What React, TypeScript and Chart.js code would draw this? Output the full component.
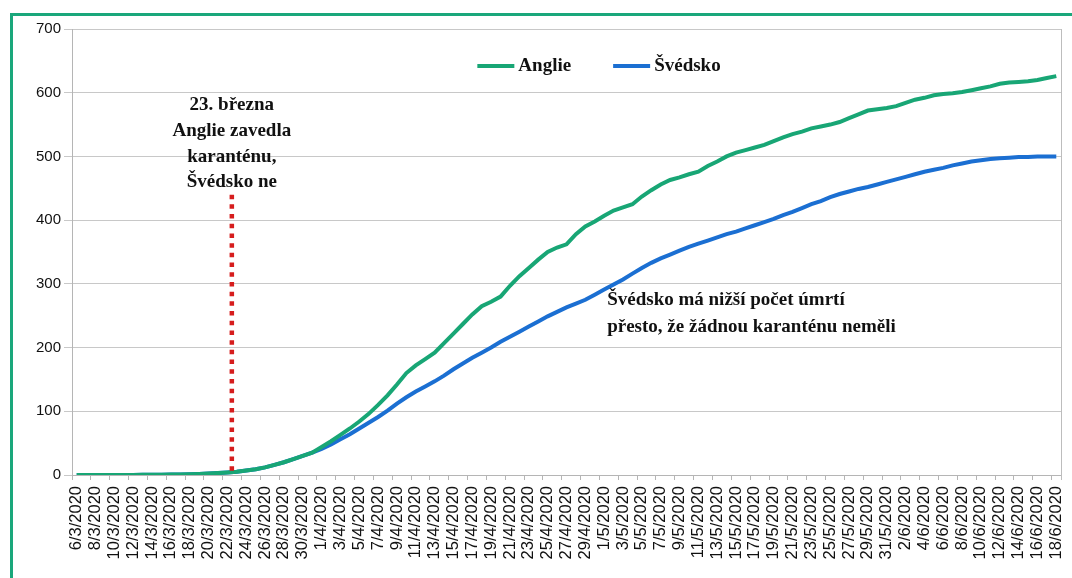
import React, { useEffect, useRef } from 'react';
import { Chart, registerables } from 'chart.js';

Chart.register(...registerables);

const dateLabels = [
  '6/3/2020','7/3/2020','8/3/2020','9/3/2020','10/3/2020','11/3/2020','12/3/2020','13/3/2020','14/3/2020','15/3/2020',
  '16/3/2020','17/3/2020','18/3/2020','19/3/2020','20/3/2020','21/3/2020','22/3/2020','23/3/2020','24/3/2020','25/3/2020',
  '26/3/2020','27/3/2020','28/3/2020','29/3/2020','30/3/2020','31/3/2020',
  '1/4/2020','2/4/2020','3/4/2020','4/4/2020','5/4/2020','6/4/2020','7/4/2020','8/4/2020','9/4/2020','10/4/2020',
  '11/4/2020','12/4/2020','13/4/2020','14/4/2020','15/4/2020','16/4/2020','17/4/2020','18/4/2020','19/4/2020','20/4/2020',
  '21/4/2020','22/4/2020','23/4/2020','24/4/2020','25/4/2020','26/4/2020','27/4/2020','28/4/2020','29/4/2020','30/4/2020',
  '1/5/2020','2/5/2020','3/5/2020','4/5/2020','5/5/2020','6/5/2020','7/5/2020','8/5/2020','9/5/2020','10/5/2020',
  '11/5/2020','12/5/2020','13/5/2020','14/5/2020','15/5/2020','16/5/2020','17/5/2020','18/5/2020','19/5/2020','20/5/2020',
  '21/5/2020','22/5/2020','23/5/2020','24/5/2020','25/5/2020','26/5/2020','27/5/2020','28/5/2020','29/5/2020','30/5/2020','31/5/2020',
  '1/6/2020','2/6/2020','3/6/2020','4/6/2020','5/6/2020','6/6/2020','7/6/2020','8/6/2020','9/6/2020','10/6/2020',
  '11/6/2020','12/6/2020','13/6/2020','14/6/2020','15/6/2020','16/6/2020','17/6/2020','18/6/2020'
];

const englandValues = [
  0, 0, 0, 0, 0, 0, 0.1, 0.2, 0.3, 0.4,
  0.6, 0.9, 1.2, 1.6, 2.2, 3, 4, 5, 7, 9,
  12, 16, 20, 25, 30, 35, 44, 53, 63, 73,
  84, 96, 110, 125, 142, 160, 172, 182, 192, 207,
  222, 237, 252, 265, 272, 280, 297, 312, 325, 338,
  350, 357, 362, 378, 390, 398, 407, 415, 420, 425,
  437, 447, 456, 463, 467, 472, 476, 485, 492, 500,
  506, 510, 514, 518, 524, 530, 535, 539, 544, 547,
  550, 554, 560, 566, 572, 574, 576, 579, 584, 589,
  592, 596, 598, 599, 601, 604, 607, 610, 614, 616,
  617, 618, 620, 623, 626
];

const swedenValues = [
  0, 0, 0, 0, 0, 0, 0.1, 0.2, 0.3, 0.4,
  0.6, 0.9, 1.2, 1.6, 2.2, 3, 4, 5, 7, 9,
  12, 16, 20, 25, 30, 35, 41, 48, 56, 64,
  73, 82, 91, 101, 112, 122, 131, 139, 147, 156,
  166, 175, 184, 192, 200, 209, 217, 225, 233, 241,
  249, 256, 263, 269, 275, 283, 291, 299, 307, 316,
  325, 333, 340, 346, 352, 358, 363, 368, 373, 378,
  382, 387, 392, 397, 402, 408, 413, 419, 425, 430,
  436, 441, 445, 449, 452, 456, 460, 464, 468, 472,
  476, 479, 482, 486, 489, 492, 494, 496, 497, 498,
  499, 499, 500, 500, 500
];

const seriesNames = ['Anglie', 'Švédsko'];
const seriesColors = ['#18a675', '#1b6fd2'];
const yMax = 700;
const yStep = 100;

const lockdownDate = '23/3/2020';
const lockdownTop = 440;
const lockdownNote = ['23. března', 'Anglie zavedla', 'karanténu,', 'Švédsko ne'];
const lockdownNoteValue = 580;
const swedenNoteDate = '1/5/2020';
const swedenNoteValue = 275;
const swedenNote = ['Švédsko má nižší počet úmrtí', 'přesto, že žádnou karanténu neměli'];

const NOTE_FONT = 'bold 19px "Liberation Serif", "Times New Roman", serif';

const overlayPlugin = {
  id: 'overlay',
  afterDraw(chart: any) {
    const { ctx, chartArea, scales } = chart;
    const xs = scales.x;
    const ys = scales.y;
    ctx.save();
    // right frame of plot
    ctx.strokeStyle = '#bdbdbd';
    ctx.lineWidth = 1;
    ctx.beginPath();
    ctx.moveTo(Math.round(chartArea.right) + 0.5, chartArea.top);
    ctx.lineTo(Math.round(chartArea.right) + 0.5, chartArea.bottom + 5);
    ctx.stroke();

    // lockdown dotted line
    const lx = xs.getPixelForValue(dateLabels.indexOf(lockdownDate)) - 5;
    ctx.strokeStyle = '#d61d1d';
    ctx.lineWidth = 4.5;
    ctx.setLineDash([4.5, 5.2]);
    ctx.beginPath();
    ctx.moveTo(lx, ys.getPixelForValue(lockdownTop));
    ctx.lineTo(lx, ys.getPixelForValue(0) - 3);
    ctx.stroke();
    ctx.setLineDash([]);

    // notes
    ctx.fillStyle = '#111';
    ctx.font = NOTE_FONT;
    ctx.textBaseline = 'middle';
    ctx.textAlign = 'center';
    const ly = ys.getPixelForValue(lockdownNoteValue);
    lockdownNote.forEach((t, i) => ctx.fillText(t, lx, ly + i * 25.7));

    ctx.textAlign = 'left';
    const sx = xs.getPixelForValue(dateLabels.indexOf(swedenNoteDate)) + 3;
    const sy = ys.getPixelForValue(swedenNoteValue);
    swedenNote.forEach((t, i) => ctx.fillText(t, sx, sy + i * 27));

    // legend
    const swatch = 37;
    const gap = 4;
    const itemGap = 42;
    const widths = chart.data.datasets.map((d: any) => swatch + gap + ctx.measureText(d.label).width);
    const total = widths.reduce((a: number, b: number) => a + b, 0) + itemGap * (widths.length - 1);
    let x = 599 - total / 2;
    const legY = chartArea.top + 37;
    chart.data.datasets.forEach((d: any, i: number) => {
      ctx.strokeStyle = d.borderColor;
      ctx.lineWidth = 4;
      ctx.beginPath();
      ctx.moveTo(x, legY);
      ctx.lineTo(x + swatch, legY);
      ctx.stroke();
      ctx.fillStyle = '#111';
      ctx.fillText(d.label, x + swatch + gap, legY);
      x += widths[i] + itemGap;
    });
    ctx.restore();
  },
};

export default function App() {
  const canvasRef = useRef<HTMLCanvasElement>(null);

  useEffect(() => {
    if (!canvasRef.current) return;
    const chart = new Chart(canvasRef.current, {
      type: 'line',
      data: {
        labels: dateLabels,
        datasets: [
          {
            label: seriesNames[0],
            data: englandValues,
            borderColor: seriesColors[0],
            backgroundColor: seriesColors[0],
            borderWidth: 4,
            pointRadius: 0,
            tension: 0,
          },
          {
            label: seriesNames[1],
            data: swedenValues,
            borderColor: seriesColors[1],
            backgroundColor: seriesColors[1],
            borderWidth: 4,
            pointRadius: 0,
            tension: 0,
          },
        ],
      },
      options: {
        animation: false,
        responsive: false,
        maintainAspectRatio: false,
        layout: { padding: { top: 29, right: 11, left: 0, bottom: 0 } },
        plugins: { legend: { display: false }, tooltip: { enabled: false } },
        scales: {
          x: {
            offset: true,
            afterFit: (s: any) => { s.height = 103; s.paddingLeft = 0; s.paddingRight = 0; },
            grid: {
              drawOnChartArea: false,
              offset: true,
              tickLength: 5,
              color: (c: any) => (c.index % 2 === 0 ? '#b5b5b5' : 'rgba(0,0,0,0)'),
            },
            border: { color: '#b5b5b5' },
            ticks: {
              autoSkip: false,
              minRotation: 90,
              maxRotation: 90,
              padding: 6,
              color: '#111',
              font: { family: '"Liberation Sans", Arial, sans-serif', size: 16.5 },
              callback: (_v: any, i: number) => (i % 2 === 0 ? dateLabels[i] : ''),
            },
          },
          y: {
            min: 0,
            max: yMax,
            afterFit: (s: any) => { s.width = 72; },
            grid: { color: '#c8c8c8', tickLength: 8 },
            border: { color: '#b5b5b5' },
            ticks: {
              stepSize: yStep,
              padding: 3,
              color: '#111',
              font: { family: '"Liberation Sans", Arial, sans-serif', size: 15 },
            },
          },
        },
      },
      plugins: [overlayPlugin],
    });
    return () => chart.destroy();
  }, []);

  return (
    <div style={{ position: 'fixed', left: 0, top: 0, width: 1072, height: 578, background: '#fff', overflow: 'hidden' }}>
      <div
        style={{
          position: 'absolute',
          left: 10,
          top: 13,
          width: 1200,
          height: 700,
          borderLeft: '3.5px solid #1aa77b',
          borderTop: '3.5px solid #1aa77b',
        }}
      />
      <canvas ref={canvasRef} width={1072} height={578} style={{ position: 'absolute', left: 0, top: 0 }} />
    </div>
  );
}
